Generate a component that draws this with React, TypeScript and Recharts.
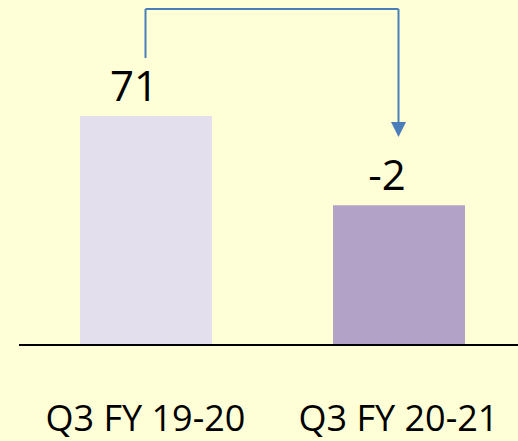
import { BarChart, Bar, XAxis, YAxis, Cell, LabelList, ReferenceLine } from "recharts";

const periods = ["Q3 FY 19-20", "Q3 FY 20-21"];
const barHeights = [100, 61];
const shownValues = ["71", "-2"];
const barColors = ["#E4DFEC", "#B3A2C7"];

// arrow path in value units (above the bars)
const arrowTop = 146.7;
const arrowStart = 125.3;
const arrowEnd = 90.8;

const ARROW = "#4A7EBB";
const FONT = "'Open Sans', sans-serif";

const data = periods.map((p, i) => ({
  period: p,
  height: barHeights[i],
  shown: shownValues[i],
}));

function ValueLabel(props: any) {
  const { x, y, width, value } = props;
  return (
    <text
      x={x + width / 2 - 12}
      y={y - 15}
      textAnchor="middle"
      fontSize={42}
      fontFamily={FONT}
      fill="#000"
    >
      {value}
    </text>
  );
}

function ArrowDown(props: any) {
  const { x1, y1, x2, y2 } = props;
  const top = Math.min(y1, y2);
  const tip = Math.max(y1, y2);
  return (
    <g>
      <line x1={x1} y1={top} x2={x2} y2={tip - 12} stroke={ARROW} strokeWidth={2} />
      <polygon
        points={`${x2 - 7.5},${tip - 15} ${x2 + 7.5},${tip - 15} ${x2},${tip}`}
        fill={ARROW}
      />
    </g>
  );
}

export default function App() {
  return (
    <div
      style={{
        position: "absolute",
        left: 0,
        top: 0,
        width: 518,
        height: 441,
        overflow: "hidden",
        background: "#FFFFD7",
      }}
    >
      <BarChart
        width={525}
        height={441}
        data={data}
        margin={{ top: 1.5, right: 0, bottom: 0, left: 19 }}
        barCategoryGap={0}
      >
        <XAxis
          dataKey="period"
          height={96}
          tickLine={false}
          tickMargin={54}
          axisLine={{ stroke: "#000", strokeWidth: 2 }}
          tick={{ fill: "#000", fontSize: 36, fontFamily: FONT }}
          interval={0}
        />
        <YAxis hide domain={[0, 150]} />
        <Bar dataKey="height" barSize={132} isAnimationActive={false}>
          {data.map((d, i) => (
            <Cell key={d.period} fill={barColors[i]} />
          ))}
          <LabelList dataKey="shown" content={<ValueLabel />} />
        </Bar>
        <ReferenceLine
          ifOverflow="visible"
          stroke={ARROW}
          strokeWidth={2}
          segment={[
            { x: periods[0], y: arrowStart },
            { x: periods[0], y: arrowTop },
          ]}
        />
        <ReferenceLine
          ifOverflow="visible"
          stroke={ARROW}
          strokeWidth={2}
          segment={[
            { x: periods[0], y: arrowTop },
            { x: periods[1], y: arrowTop },
          ]}
        />
        <ReferenceLine
          ifOverflow="visible"
          stroke={ARROW}
          strokeWidth={2}
          segment={[
            { x: periods[1], y: arrowTop },
            { x: periods[1], y: arrowEnd },
          ]}
          shape={<ArrowDown />}
        />
      </BarChart>
    </div>
  );
}
